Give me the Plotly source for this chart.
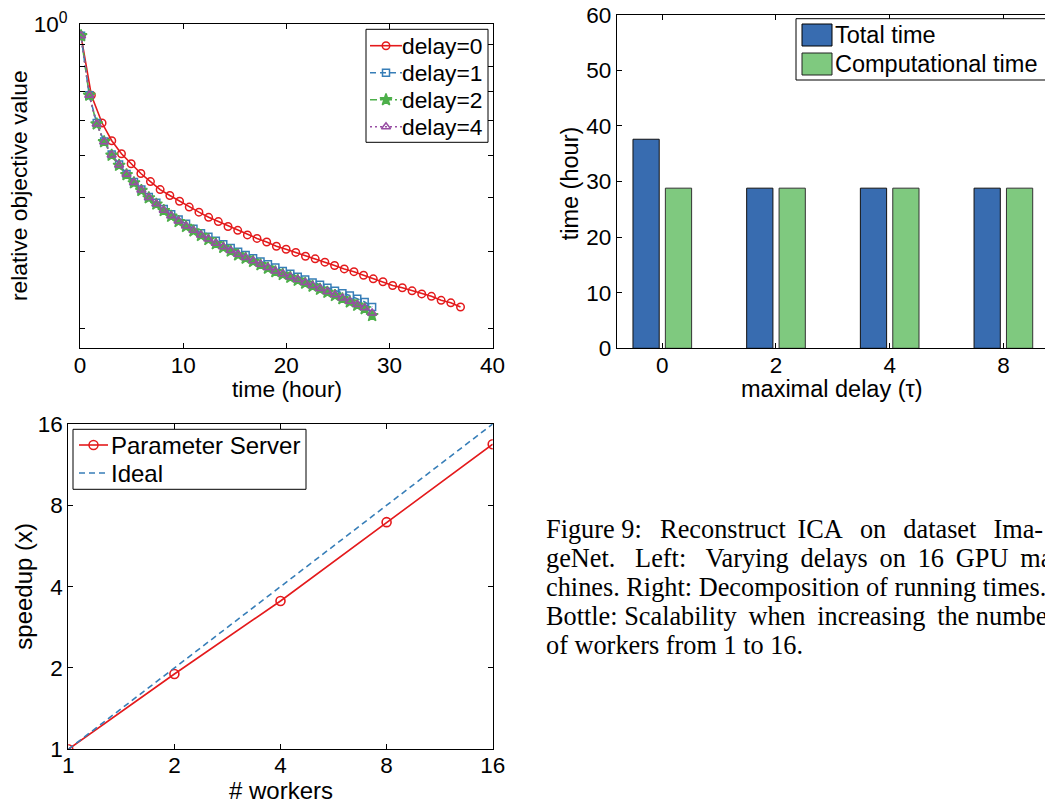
import math
import plotly.graph_objects as go

# ---------------- data ----------------
# top-left: relative objective value vs time (hour)
t_delay0 = [0.1, 1.1, 2.14, 3.08, 4.02, 4.96, 5.9, 6.83, 7.77, 8.71, 9.65, 10.59, 11.53, 12.47,
            13.41, 14.35, 15.29, 16.23, 17.16, 18.1, 19.04, 19.98, 20.92, 21.86, 22.8, 23.74,
            24.68, 25.62, 26.56, 27.49, 28.43, 29.37, 30.31, 31.25, 32.19, 33.13, 34.07, 35.01,
            35.95, 36.89]
obj_delay0 = [0.941, 0.687, 0.593, 0.540, 0.504, 0.478, 0.454, 0.435, 0.417, 0.404, 0.392, 0.380,
              0.370, 0.360, 0.352, 0.343, 0.336, 0.328, 0.322, 0.316, 0.309, 0.304, 0.299, 0.293,
              0.289, 0.284, 0.279, 0.274, 0.270, 0.265, 0.260, 0.256, 0.251, 0.248, 0.244, 0.240,
              0.237, 0.232, 0.229, 0.224]
t_delayed = [0.1, 0.9, 1.62, 2.34, 3.07, 3.79, 4.51, 5.23, 5.95, 6.67, 7.4, 8.12, 8.84, 9.56,
             10.28, 11.0, 11.73, 12.45, 13.17, 13.89, 14.61, 15.33, 16.06, 16.78, 17.5, 18.22,
             18.94, 19.66, 20.39, 21.11, 21.83, 22.55, 23.27, 23.99, 24.72, 25.44, 26.16, 26.88,
             27.6, 28.32]
obj_delay1 = [0.941, 0.687, 0.593, 0.538, 0.502, 0.476, 0.453, 0.434, 0.417, 0.401, 0.389, 0.376,
              0.366, 0.356, 0.348, 0.339, 0.331, 0.325, 0.318, 0.312, 0.306, 0.300, 0.295, 0.290,
              0.285, 0.281, 0.276, 0.271, 0.267, 0.263, 0.259, 0.255, 0.252, 0.248, 0.244, 0.241,
              0.238, 0.234, 0.230, 0.224]
obj_delay2 = [0.941, 0.687, 0.590, 0.537, 0.500, 0.474, 0.451, 0.432, 0.415, 0.399, 0.386, 0.373,
              0.362, 0.352, 0.343, 0.335, 0.327, 0.320, 0.313, 0.307, 0.301, 0.295, 0.290, 0.285,
              0.280, 0.275, 0.270, 0.266, 0.262, 0.258, 0.254, 0.250, 0.246, 0.242, 0.238, 0.234,
              0.230, 0.226, 0.222, 0.214]
obj_delay4 = [0.941, 0.687, 0.590, 0.537, 0.501, 0.475, 0.452, 0.433, 0.416, 0.400, 0.387, 0.374,
              0.363, 0.353, 0.344, 0.336, 0.328, 0.321, 0.314, 0.308, 0.302, 0.296, 0.291, 0.286,
              0.281, 0.276, 0.271, 0.267, 0.263, 0.259, 0.255, 0.251, 0.247, 0.243, 0.239, 0.235,
              0.231, 0.227, 0.223, 0.217]
delay_names = ["delay=0", "delay=1", "delay=2", "delay=4"]

# top-right: time decomposition
max_delay = ["0", "2", "4", "8"]
total_time = [37.6, 28.8, 28.8, 28.8]
comp_time = [28.8, 28.8, 28.8, 28.8]
bar_names = ["Total time", "Computational time"]

# bottom-left: speedup
workers = [1, 2, 4, 8, 16]
ps_speedup = [1.0, 1.90, 3.54, 6.93, 13.47]
ideal_speedup = [1, 2, 4, 8, 16]
speed_names = ["Parameter Server", "Ideal"]

log_ticks_y1 = [0.2, 0.3, 0.4, 0.5, 0.6, 0.7, 0.8, 0.9, 1.0]
time_ticks = [0, 10, 20, 30, 40]
pow2_ticks = [1, 2, 4, 8, 16]

TS = "\u2009"  # thin space used to imitate justified text
caption_lines = [
    "Figure 9:\u2002" + TS + "Reconstruct" + TS + " ICA" + TS + TS + " on" + TS + TS + " dataset" + TS + TS + " Ima-",
    "geNet.\u2002 Left:\u2002 Varying" + TS + " delays" + TS + " on" + TS + " 16" + TS + " GPU" + TS + " ma-",
    "chines. Right: Decomposition of running times.",
    "Bottle: Scalability" + TS + " when" + TS + " increasing" + TS + " the number",
    "of workers from 1 to 16.",
]

# ---------------- layout helpers ----------------
W, H = 1045, 803
FONT = "Liberation Sans, Arial, Helvetica, sans-serif"
SERIF = "Liberation Serif, Times New Roman, serif"
TICK_FS = 22.5
FS_TL, FS_TR, FS_BL = 22.8, 23.5, 24


def px(x):
    return x / W


def py(y):
    return 1 - y / H


RED, BLUE, GREEN, PURPLE = "#E41A1C", "#377EB8", "#4DAF4A", "#984EA3"
BAR_BLUE, BAR_GREEN = "#386CB0", "#7FC97F"
DASH, DASHDOT, DOT = "6px,4px", "7px,3px,2px,3px", "2px,3px"

fig = go.Figure()

# ---- top-left traces
styles = [
    (t_delay0, obj_delay0, RED, "solid", "circle-open", 7.5),
    (t_delayed, obj_delay1, BLUE, DASH, "square-open", 7),
    (t_delayed, obj_delay2, GREEN, DASHDOT, "star", 9),
    (t_delayed, obj_delay4, PURPLE, DOT, "triangle-up-open", 8),
]
for name, (tx, vy, col, dash, sym, ms) in zip(delay_names, styles):
    fig.add_trace(go.Scatter(
        x=tx, y=vy, name=name, mode="lines+markers", showlegend=False,
        line=dict(color=col, width=1.6, dash=dash),
        marker=dict(symbol=sym, size=ms, color=col, line=dict(color=col, width=1.5)),
        xaxis="x", yaxis="y",
    ))

# ---- top-right bars
fig.add_trace(go.Bar(x=max_delay, y=total_time, name=bar_names[0],
                     marker=dict(color=BAR_BLUE, line=dict(color="#111111", width=1)),
                     xaxis="x2", yaxis="y2", showlegend=False))
fig.add_trace(go.Bar(x=max_delay, y=comp_time, name=bar_names[1],
                     marker=dict(color=BAR_GREEN, line=dict(color="#333333", width=1)),
                     xaxis="x2", yaxis="y2", showlegend=False))

# ---- bottom-left speedup
fig.add_trace(go.Scatter(
    x=workers, y=ps_speedup, name=speed_names[0], mode="lines+markers", showlegend=False,
    line=dict(color=RED, width=1.6),
    marker=dict(symbol="circle-open", size=9, color=RED, line=dict(color=RED, width=1.6)),
    xaxis="x3", yaxis="y3"))
fig.add_trace(go.Scatter(
    x=workers, y=ideal_speedup, name=speed_names[1], mode="lines", showlegend=False,
    line=dict(color=BLUE, width=1.6, dash=DASH),
    xaxis="x3", yaxis="y3"))


# ---- legends drawn on a transparent pixel-space overlay (x4/y4)
def legend_box(x0, x1, y0, y1):
    fig.add_trace(go.Scatter(x=[x0, x1, x1, x0, x0], y=[y0, y0, y1, y1, y0], mode="lines",
                             fill="toself", fillcolor="white",
                             line=dict(color="black", width=1),
                             hoverinfo="skip", showlegend=False, xaxis="x4", yaxis="y4"))


def legend_sample(xa, xb, yc, col, dash, sym, ms, show_marker=True):
    fig.add_trace(go.Scatter(x=[xa, (xa + xb) / 2, xb], y=[yc, yc, yc],
                             mode="lines+markers" if show_marker else "lines",
                             line=dict(color=col, width=1.6, dash=dash),
                             marker=dict(symbol=sym, size=ms, color=col, opacity=[0, 1, 0],
                                         line=dict(color=col, width=1.5)),
                             hoverinfo="skip", showlegend=False, xaxis="x4", yaxis="y4"))


ann = []


def legend_text(txt, x, yc, fs):
    ann.append(dict(text=txt, x=x, y=yc, xref="x4", yref="y4", xanchor="left",
                    yanchor="middle", showarrow=False, font=dict(family=FONT, size=fs)))


# top-left legend
legend_box(366, 488, 29.3, 142.3)
for i, (name, (_, _, col, dash, sym, ms)) in enumerate(zip(delay_names, styles)):
    yc = 45.7 + 27 * i
    legend_sample(370, 402, yc, col, dash, sym, ms)
    legend_text(name, 400, yc, FS_TL)

# bottom-left legend
legend_box(73, 306, 429.3, 489.3)
legend_sample(79, 108, 445, RED, "solid", "circle-open", 9)
legend_text(speed_names[0], 108.5, 445, FS_BL)
legend_sample(79, 108, 473, BLUE, DASH, "circle-open", 0, show_marker=False)
legend_text(speed_names[1], 108.5, 473, FS_BL)

# bar legend (box runs past the right edge as in the reference)
shapes = [
    dict(type="rect", xref="paper", yref="paper", x0=px(796), x1=px(1070), y0=py(80), y1=py(18.7),
         line=dict(color="black", width=1), fillcolor="white", layer="above"),
    dict(type="rect", xref="paper", yref="paper", x0=px(802), x1=px(832), y0=py(46), y1=py(24),
         line=dict(color="black", width=1), fillcolor=BAR_BLUE, layer="above"),
    dict(type="rect", xref="paper", yref="paper", x0=px(802), x1=px(832), y0=py(75), y1=py(53),
         line=dict(color="#222222", width=1), fillcolor=BAR_GREEN, layer="above"),
]
for i, nm in enumerate(bar_names):
    ann.append(dict(text=nm, x=px(833), y=py(35 + 29 * i), xref="paper", yref="paper",
                    xanchor="left", yanchor="middle", showarrow=False,
                    font=dict(family=FONT, size=FS_TR)))

axis_common = dict(showline=True, linecolor="black", linewidth=1, ticks="inside", ticklen=5,
                   tickcolor="black", showgrid=False, zeroline=False,
                   tickfont=dict(family=FONT, size=TICK_FS, color="black"))

fig.update_layout(
    width=W, height=H,
    margin=dict(l=0, r=0, t=0, b=0, autoexpand=False),
    paper_bgcolor="white", plot_bgcolor="rgba(0,0,0,0)",
    font=dict(family=FONT, size=TICK_FS, color="black"),
    barmode="group", bargap=0.43, bargroupgap=0.19,
    showlegend=False,
    xaxis=dict(domain=[px(80), px(492.6)], range=[0, 40], tickvals=time_ticks,
               ticklabelstandoff=-3, mirror="ticks", anchor="y", **axis_common),
    yaxis=dict(domain=[py(348.3), py(24.3)], type="log", range=[math.log10(0.18), 0],
               tickvals=log_ticks_y1, ticktext=[""] * 8 + ["10<sup>0</sup>"],
               ticklabelstandoff=7, mirror="ticks", anchor="x", **axis_common),
    xaxis2=dict(domain=[px(616.7), 1.0], type="category", range=[-0.401, 3.366],
                ticklabelstandoff=-3, mirror="ticks", anchor="y2", **axis_common),
    yaxis2=dict(domain=[py(348.3), py(14.7)], range=[0, 60], dtick=10,
                mirror=False, anchor="x2", **axis_common),
    xaxis3=dict(domain=[px(68.3), px(492.7)], type="log", range=[0, math.log10(16)],
                tickvals=pow2_ticks, ticklabelstandoff=-4, mirror="ticks", anchor="y3",
                **axis_common),
    yaxis3=dict(domain=[py(749.3), py(424)], type="log", range=[0, math.log10(16)],
                tickvals=pow2_ticks, mirror="ticks", anchor="x3", **axis_common),
    xaxis4=dict(domain=[0, 1], range=[0, W], visible=False, fixedrange=True, anchor="y4"),
    yaxis4=dict(domain=[0, 1], range=[H, 0], visible=False, fixedrange=True, anchor="x4"),
    shapes=shapes,
)

# axis titles
titles = [
    ("relative objective value", 19, 186, -90, FS_TL),
    ("time (hour)", 286.7, 389, 0, FS_TL),
    ("time (hour)", 570, 183.3, -90, FS_TR),
    ("maximal delay (\u03c4)", 831.7, 389, 0, FS_TR),
    ("speedup (x)", 24, 586.7, -90, FS_BL),
    ("# workers", 280.8, 790, 0, FS_BL),
]
for txt, x, y, ang, fs in titles:
    ann.append(dict(text=txt, x=px(x), y=py(y), xref="paper", yref="paper",
                    xanchor="center", yanchor="middle", showarrow=False, textangle=ang,
                    font=dict(family=FONT, size=fs)))

# caption
for i, line in enumerate(caption_lines):
    ann.append(dict(text=line, x=px(544), y=py(529 + 29 * i), xref="paper", yref="paper",
                    xanchor="left", yanchor="middle", showarrow=False,
                    font=dict(family=SERIF, size=26.3)))

fig.update_layout(annotations=ann)

fig.write_html("out.html", config={"displayModeBar": False},
               post_script="document.body.style.margin='0';document.body.style.overflow='hidden';")
